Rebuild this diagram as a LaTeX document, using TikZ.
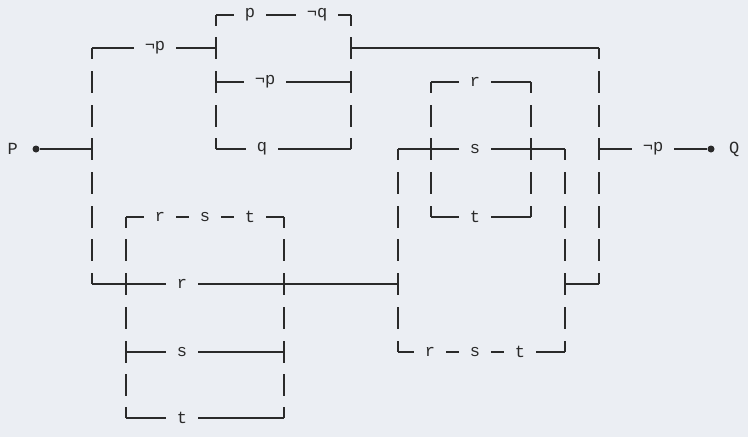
\documentclass[tikz,border=0pt]{standalone}
\usepackage{fontspec}
\setmonofont{Liberation Mono}
\definecolor{bgc}{HTML}{EBEEF3}
\definecolor{ink}{HTML}{2A2A2A}
\begin{document}
\begin{tikzpicture}[x=1pt, y=-1pt,
          wire/.style={draw=ink, line width=1.1pt},
          lbl/.style={fill=bgc, inner xsep=11pt, inner ysep=1pt, text=ink, font=\ttfamily\fontsize{17}{17}\selectfont},
          term/.style={circle, fill=ink, inner sep=0pt, minimum size=7pt}
        ]
        \fill[bgc] (0,0) rectangle (748,437);
        \useasboundingbox (0,0) rectangle (748,437);

        % vertical bars, one per text row
        \foreach \x/\y in {92/82,92/116,92/149,92/183,92/217,92/250,
                           216/48,216/82,216/116,351/48,351/82,351/116,
                           599/82,599/116,599/149,599/183,599/217,599/250,
                           126/250,126/284,126/318,126/352,126/385,
                           284/250,284/284,284/318,284/352,284/385,
                           398/183,398/217,398/250,398/284,398/318,
                           565/183,565/217,565/250,565/284,565/318,
                           431/116,431/149,431/183,531/116,531/149,531/183}
            \draw[wire] (\x,\y-11) -- (\x,\y+11);
        % corners opening down
        \foreach \x/\y in {92/48,216/15,351/15,599/48,126/217,284/217,398/149,565/149,431/82,531/82}
            \draw[wire] (\x,\y) -- (\x,\y+11);
        % corners opening up
        \foreach \x/\y in {92/284,216/149,351/149,599/284,126/418,284/418,398/352,565/352,431/217,531/217}
            \draw[wire] (\x,\y-11) -- (\x,\y);

        % horizontal wires
        \foreach \a/\b/\y in {216/351/15, 92/216/48, 351/599/48, 216/351/82, 431/531/82,
                              216/351/149, 398/565/149, 126/284/217, 431/531/217,
                              92/398/284, 565/599/284, 126/284/352, 398/565/352, 126/284/418}
            \draw[wire] (\a,\y) -- (\b,\y);

        % terminals
        \node[term] (dP) at (36,149) {};
        \node[term] (dQ) at (711,149) {};
        \node[lbl, inner xsep=2pt, anchor=east] (P) at (20,149) {P};
        \node[lbl, inner xsep=2pt, anchor=west] (Q) at (727,149) {Q};
        \draw[wire] (dP) -- (92,149);
        \draw[wire] (599,149) -- (dQ);

        % labels
        \foreach \x/\y/\t in {250/15/p, 317/15/¬q, 155/48/¬p, 265/82/¬p, 262/149/q,
                              475/82/r, 475/149/s, 475/217/t, 653/149/¬p,
                              160/217/r, 205/217/s, 250/217/t, 182/284/r, 182/352/s, 182/418/t,
                              430/352/r, 475/352/s, 520/352/t}
            \node[lbl] at (\x,\y) {\t};
\end{tikzpicture}
\end{document}
